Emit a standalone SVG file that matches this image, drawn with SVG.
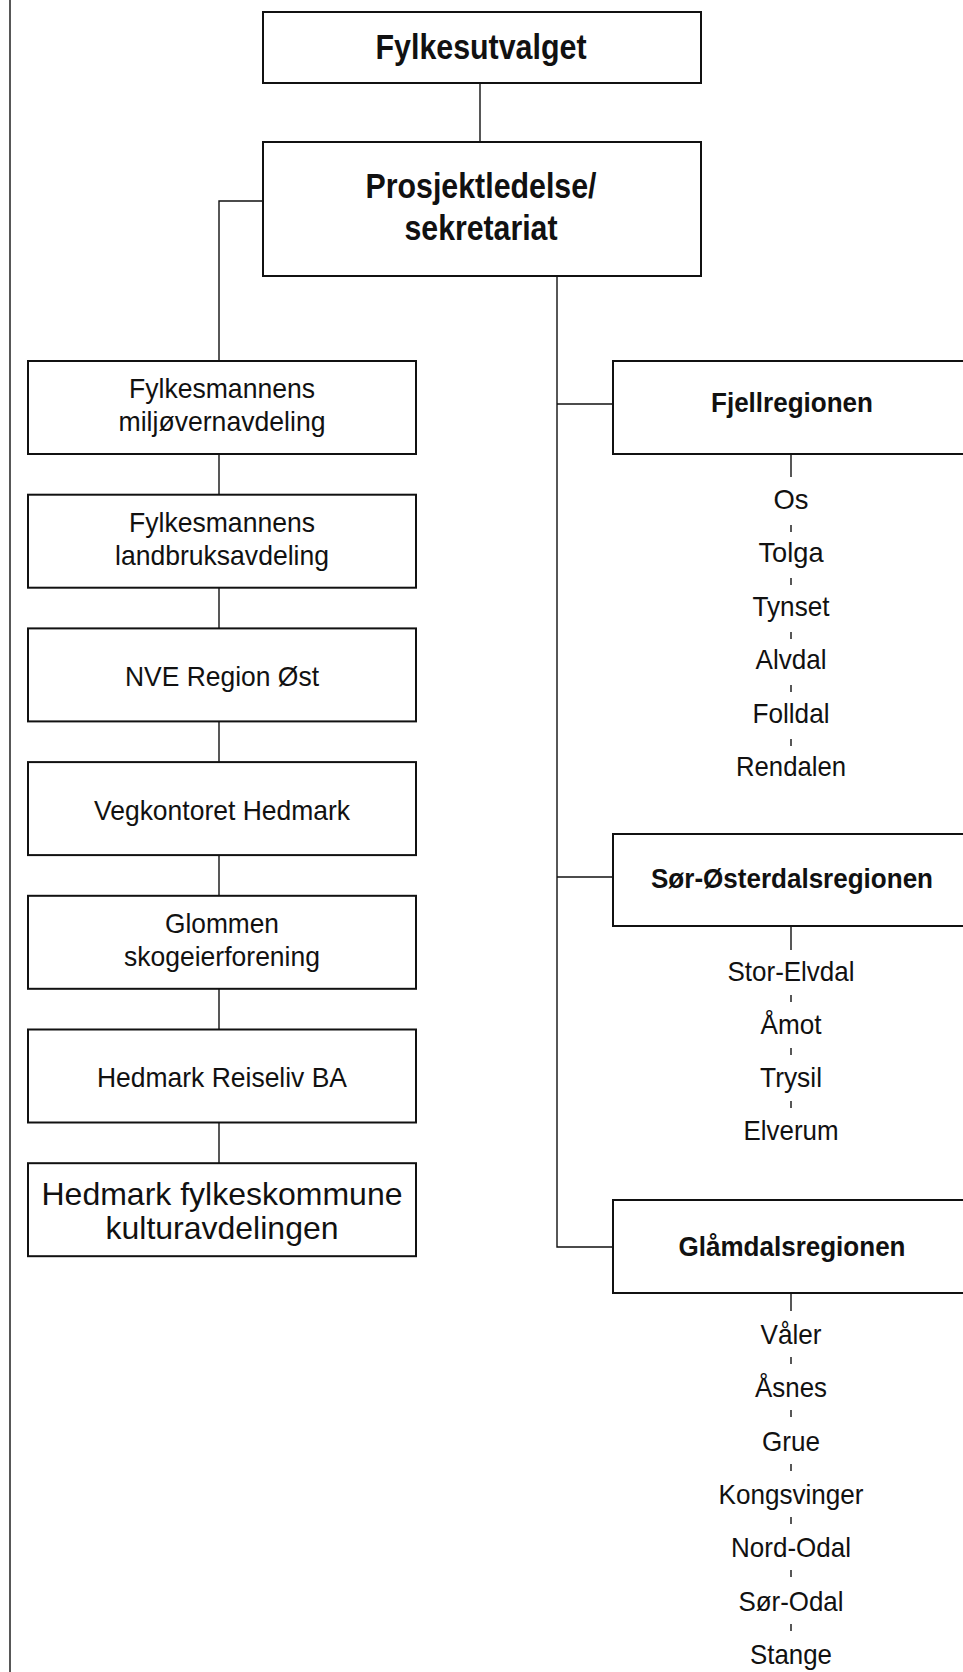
<svg xmlns="http://www.w3.org/2000/svg" width="963" height="1672" viewBox="0 0 963 1672">
<style>
.box{fill:#fff;stroke:#111;stroke-width:2}
.ln{stroke:#111;stroke-width:1.4;fill:none}
text{font-family:"Liberation Sans",Arial,Helvetica,sans-serif;fill:#111;text-anchor:middle}
.hb{font-size:35px;font-weight:bold}
.rb{font-size:28px;font-weight:bold}
.t{font-size:28px}
.tl{font-size:32px}
</style>
<rect width="963" height="1672" fill="#fff"/>
<g id="connectors" class="ln">
  <line x1="10" y1="0" x2="10" y2="1672"/>
  <line x1="480" y1="83" x2="480" y2="142"/>
  <polyline points="263,201 219,201 219,361"/>
  <line x1="219" y1="454" x2="219" y2="494.7"/>
  <line x1="219" y1="587.7" x2="219" y2="628.4"/>
  <line x1="219" y1="721.4" x2="219" y2="762.1"/>
  <line x1="219" y1="855.1" x2="219" y2="895.8"/>
  <line x1="219" y1="988.8" x2="219" y2="1029.5"/>
  <line x1="219" y1="1122.5" x2="219" y2="1163.2"/>
  <polyline points="557,276 557,1247 613,1247"/>
  <line x1="557" y1="404" x2="613" y2="404"/>
  <line x1="557" y1="877" x2="613" y2="877"/>
  <line x1="791" y1="454" x2="791" y2="477"/>
  <line x1="791" y1="926" x2="791" y2="950"/>
  <line x1="791" y1="1293" x2="791" y2="1311"/>
  <line x1="791" y1="525" x2="791" y2="532"/>
  <line x1="791" y1="578" x2="791" y2="585"/>
  <line x1="791" y1="632" x2="791" y2="639"/>
  <line x1="791" y1="685" x2="791" y2="692"/>
  <line x1="791" y1="739" x2="791" y2="746"/>
  <line x1="791" y1="995" x2="791" y2="1002"/>
  <line x1="791" y1="1048" x2="791" y2="1055"/>
  <line x1="791" y1="1101" x2="791" y2="1108"/>
  <line x1="791" y1="1357" x2="791" y2="1364"/>
  <line x1="791" y1="1410" x2="791" y2="1417"/>
  <line x1="791" y1="1464" x2="791" y2="1471"/>
  <line x1="791" y1="1517" x2="791" y2="1524"/>
  <line x1="791" y1="1570" x2="791" y2="1577"/>
  <line x1="791" y1="1624" x2="791" y2="1631"/>
</g>
<g id="fylkesutvalget">
  <rect class="box" x="263" y="12" width="438" height="71"/>
  <text class="hb" x="481" y="59" textLength="211" lengthAdjust="spacingAndGlyphs">Fylkesutvalget</text>
</g>
<g id="prosjektledelse">
  <rect class="box" x="263" y="142" width="438" height="134"/>
  <text class="hb" x="481" y="198" textLength="231" lengthAdjust="spacingAndGlyphs">Prosjektledelse/</text>
  <text class="hb" x="481" y="240" textLength="153" lengthAdjust="spacingAndGlyphs">sekretariat</text>
</g>
<g id="fm-miljo">
  <rect class="box" x="28" y="361" width="388" height="93"/>
  <text class="t" x="222" y="398" textLength="186" lengthAdjust="spacingAndGlyphs">Fylkesmannens</text>
  <text class="t" x="222" y="431" textLength="207" lengthAdjust="spacingAndGlyphs">miljøvernavdeling</text>
</g>
<g id="fm-landbruk">
  <rect class="box" x="28" y="494.7" width="388" height="93"/>
  <text class="t" x="222" y="532" textLength="186" lengthAdjust="spacingAndGlyphs">Fylkesmannens</text>
  <text class="t" x="222" y="565" textLength="214" lengthAdjust="spacingAndGlyphs">landbruksavdeling</text>
</g>
<g id="nve">
  <rect class="box" x="28" y="628.4" width="388" height="93"/>
  <text class="t" x="222" y="686" textLength="194" lengthAdjust="spacingAndGlyphs">NVE Region Øst</text>
</g>
<g id="vegkontoret">
  <rect class="box" x="28" y="762.1" width="388" height="93"/>
  <text class="t" x="222" y="820" textLength="256" lengthAdjust="spacingAndGlyphs">Vegkontoret Hedmark</text>
</g>
<g id="glommen">
  <rect class="box" x="28" y="895.8" width="388" height="93"/>
  <text class="t" x="222" y="933" textLength="114" lengthAdjust="spacingAndGlyphs">Glommen</text>
  <text class="t" x="222" y="966" textLength="196" lengthAdjust="spacingAndGlyphs">skogeierforening</text>
</g>
<g id="reiseliv">
  <rect class="box" x="28" y="1029.5" width="388" height="93"/>
  <text class="t" x="222" y="1087" textLength="250" lengthAdjust="spacingAndGlyphs">Hedmark Reiseliv BA</text>
</g>
<g id="fylkeskommune">
  <rect class="box" x="28" y="1163.2" width="388" height="93"/>
  <text class="tl" x="222" y="1205">Hedmark fylkeskommune</text>
  <text class="tl" x="222" y="1239">kulturavdelingen</text>
</g>
<g id="fjellregionen">
  <rect class="box" x="613" y="361" width="400" height="93"/>
  <text class="rb" x="792" y="412" textLength="162" lengthAdjust="spacingAndGlyphs">Fjellregionen</text>
</g>
<g id="sor-osterdal">
  <rect class="box" x="613" y="834" width="400" height="92"/>
  <text class="rb" x="792" y="888" textLength="282" lengthAdjust="spacingAndGlyphs">Sør-Østerdalsregionen</text>
</g>
<g id="glamdal">
  <rect class="box" x="613" y="1200" width="400" height="93"/>
  <text class="rb" x="792" y="1256" textLength="227" lengthAdjust="spacingAndGlyphs">Glåmdalsregionen</text>
</g>
<g id="os"><text class="t" x="791" y="509" textLength="35" lengthAdjust="spacingAndGlyphs">Os</text></g>
<g id="tolga"><text class="t" x="791" y="562" textLength="65" lengthAdjust="spacingAndGlyphs">Tolga</text></g>
<g id="tynset"><text class="t" x="791" y="616" textLength="77" lengthAdjust="spacingAndGlyphs">Tynset</text></g>
<g id="alvdal"><text class="t" x="791" y="669" textLength="71" lengthAdjust="spacingAndGlyphs">Alvdal</text></g>
<g id="folldal"><text class="t" x="791" y="723" textLength="77" lengthAdjust="spacingAndGlyphs">Folldal</text></g>
<g id="rendalen"><text class="t" x="791" y="776" textLength="110" lengthAdjust="spacingAndGlyphs">Rendalen</text></g>
<g id="stor-elvdal"><text class="t" x="791" y="981" textLength="127" lengthAdjust="spacingAndGlyphs">Stor-Elvdal</text></g>
<g id="amot"><text class="t" x="791" y="1034" textLength="61" lengthAdjust="spacingAndGlyphs">Åmot</text></g>
<g id="trysil"><text class="t" x="791" y="1087" textLength="62" lengthAdjust="spacingAndGlyphs">Trysil</text></g>
<g id="elverum"><text class="t" x="791" y="1140" textLength="95" lengthAdjust="spacingAndGlyphs">Elverum</text></g>
<g id="valer"><text class="t" x="791" y="1344" textLength="61" lengthAdjust="spacingAndGlyphs">Våler</text></g>
<g id="asnes"><text class="t" x="791" y="1397" textLength="72" lengthAdjust="spacingAndGlyphs">Åsnes</text></g>
<g id="grue"><text class="t" x="791" y="1451" textLength="58" lengthAdjust="spacingAndGlyphs">Grue</text></g>
<g id="kongsvinger"><text class="t" x="791" y="1504" textLength="145" lengthAdjust="spacingAndGlyphs">Kongsvinger</text></g>
<g id="nord-odal"><text class="t" x="791" y="1557" textLength="120" lengthAdjust="spacingAndGlyphs">Nord-Odal</text></g>
<g id="sor-odal"><text class="t" x="791" y="1611" textLength="105" lengthAdjust="spacingAndGlyphs">Sør-Odal</text></g>
<g id="stange"><text class="t" x="791" y="1664" textLength="82" lengthAdjust="spacingAndGlyphs">Stange</text></g>
</svg>
